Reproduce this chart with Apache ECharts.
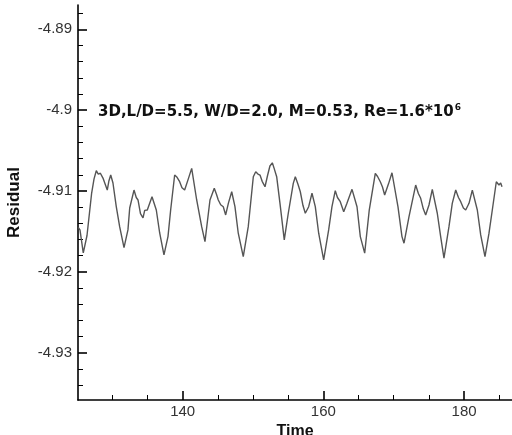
<!DOCTYPE html>
<html>
<head>
<meta charset="utf-8">
<script src="https://cdn.jsdelivr.net/npm/echarts@6/dist/echarts.min.js"></script>
<style>
html,body{margin:0;padding:0;background:#fff;}
#c{width:512px;height:435px;}
</style>
</head>
<body>
<div id="c"></div>
<script>
const time = [125.15,125.40,125.87,126.4,127.06,127.4,127.72,128.0,128.3,128.67,129.0,129.28,129.5,129.77,130.09,130.56,131.04,131.66,132.22,132.47,133.08,133.4,133.65,134.0,134.36,134.6,134.97,135.64,136.25,136.73,137.34,137.91,138.29,138.86,139.2,139.57,139.9,140.28,140.8,141.28,141.99,142.70,143.17,143.88,144.49,144.8,145.06,145.4,145.77,146.11,146.5,146.97,147.43,147.90,148.61,149.32,150.04,150.38,150.7,150.99,151.3,151.70,152.08,152.4,152.74,153.0,153.36,153.83,154.44,155.01,155.72,156.01,156.4,156.72,157.1,157.43,157.91,158.38,158.85,159.33,160.04,160.75,161.22,161.69,162.0,162.40,162.89,163.35,164.07,164.78,165.25,165.87,166.52,167.38,167.7,168.09,168.4,168.71,169.28,169.75,170.60,171.17,171.46,172.17,173.12,173.5,173.83,174.2,174.54,175.01,175.48,176.19,176.67,177.14,177.85,178.32,178.81,179.2,179.52,179.9,180.23,180.70,181.17,181.88,182.36,182.97,183.54,184.01,184.58,184.96,185.2,185.39];
const residual = [-4.9145,-4.91481,-4.91765,-4.9155,-4.91025,-4.9085,-4.90749,-4.9079,-4.9078,-4.90840,-4.9092,-4.90988,-4.9088,-4.90802,-4.90901,-4.91194,-4.91441,-4.91700,-4.91481,-4.91210,-4.90988,-4.9108,-4.91111,-4.9128,-4.91333,-4.9124,-4.91235,-4.91070,-4.91235,-4.91519,-4.91790,-4.91564,-4.91235,-4.90802,-4.9083,-4.90885,-4.9096,-4.90988,-4.9085,-4.90720,-4.91111,-4.91441,-4.91626,-4.91111,-4.90967,-4.9104,-4.91111,-4.9117,-4.91194,-4.91296,-4.9115,-4.91009,-4.91194,-4.91522,-4.91811,-4.91441,-4.90823,-4.90762,-4.9079,-4.90802,-4.9088,-4.90947,-4.90802,-4.9069,-4.90651,-4.9072,-4.90823,-4.91152,-4.91605,-4.91275,-4.90905,-4.90823,-4.9092,-4.91009,-4.9118,-4.91275,-4.91194,-4.91028,-4.91194,-4.91522,-4.91852,-4.91481,-4.91194,-4.90996,-4.9108,-4.91132,-4.91256,-4.91152,-4.90979,-4.91194,-4.91564,-4.91769,-4.91235,-4.90781,-4.9082,-4.90885,-4.9095,-4.91049,-4.90905,-4.90774,-4.91194,-4.91564,-4.91646,-4.91317,-4.90926,-4.9103,-4.91090,-4.9122,-4.91296,-4.91173,-4.90979,-4.91275,-4.91564,-4.91831,-4.91441,-4.91152,-4.90988,-4.9108,-4.91132,-4.9121,-4.91235,-4.91152,-4.90988,-4.91235,-4.91543,-4.91811,-4.91522,-4.91235,-4.90885,-4.90926,-4.9090,-4.90947];

const xTicks = [140, 160, 180];
const xMinorTicks = [130, 135, 145, 150, 155, 165, 170, 175, 185];
const yTicks = [-4.93, -4.92, -4.91, -4.9, -4.89];
const yMinorTicks = [-4.934, -4.932, -4.928, -4.926, -4.924, -4.922, -4.918, -4.916, -4.914, -4.912, -4.908, -4.906, -4.904, -4.902, -4.898, -4.896, -4.894, -4.892, -4.888];

const xRange = [125.12, 186.81];
const yRange = [-4.93585, -4.88699];

const chart = echarts.init(document.getElementById('c'), null, {renderer: 'canvas'});
const black = '#000';
const labelFont = 'Liberation Sans, Arial, sans-serif';

chart.setOption({
  animation: false,
  backgroundColor: '#fff',
  title: {
    text: '{a|3D,L/D=5.5, W/D=2.0, M=0.53, Re=1.6*10}{s|6}',
    left: 98, top: 103, padding: 0,
    textStyle: {
      rich: {
        a: {fontFamily: 'DejaVu Sans', fontWeight: 'bold', fontSize: 15, color: '#111', lineHeight: 18},
        s: {fontFamily: 'DejaVu Sans', fontWeight: 'bold', fontSize: 9, color: '#111', padding: [0, 0, 10, 1]}
      }
    }
  },
  grid: {left: 78, right: 0, top: 5, bottom: 35, containLabel: false, outerBoundsMode: 'none'},
  xAxis: [{
    type: 'value', min: xRange[0], max: xRange[1],
    name: 'Time', nameLocation: 'middle', nameGap: 18,
    nameTextStyle: {fontFamily: labelFont, fontWeight: 'bold', fontSize: 16, color: '#111'},
    axisLine: {show: true, onZero: false, lineStyle: {color: black, width: 1.6}},
    axisTick: {show: true, inside: true, length: 9, customValues: xTicks, lineStyle: {color: black, width: 1.6}},
    axisLabel: {show: true, customValues: xTicks, margin: 4, fontFamily: labelFont, fontSize: 15, color: '#333',
      formatter: v => String(Math.round(v))},
    splitLine: {show: false}
  }, {
    type: 'value', min: xRange[0], max: xRange[1], position: 'bottom',
    axisLine: {show: false, onZero: false},
    axisTick: {show: true, inside: true, length: 5, customValues: xMinorTicks, lineStyle: {color: black, width: 1}},
    axisLabel: {show: false},
    splitLine: {show: false}
  }],
  yAxis: [{
    type: 'value', min: yRange[0], max: yRange[1],
    name: 'Residual', nameLocation: 'middle', nameGap: 55, nameRotate: 90,
    nameTextStyle: {fontFamily: labelFont, fontWeight: 'bold', fontSize: 17, color: '#111'},
    axisLine: {show: true, onZero: false, lineStyle: {color: black, width: 1.6}},
    axisTick: {show: true, inside: true, length: 9, customValues: yTicks, lineStyle: {color: black, width: 1.6}},
    axisLabel: {show: true, customValues: yTicks, margin: 6, fontFamily: labelFont, fontSize: 15, color: '#333',
      formatter: v => String(+v.toFixed(3))},
    splitLine: {show: false}
  }, {
    type: 'value', min: yRange[0], max: yRange[1], position: 'left',
    axisLine: {show: false, onZero: false},
    axisTick: {show: true, inside: true, length: 5, customValues: yMinorTicks, lineStyle: {color: black, width: 1}},
    axisLabel: {show: false},
    splitLine: {show: false}
  }],
  series: [{
    type: 'line',
    xAxisIndex: 0, yAxisIndex: 0,
    data: time.map((t, i) => [t, residual[i]]),
    showSymbol: false,
    smooth: false,
    lineStyle: {color: '#555', width: 1.4},
    silent: true
  }]
});
</script>
</body>
</html>
